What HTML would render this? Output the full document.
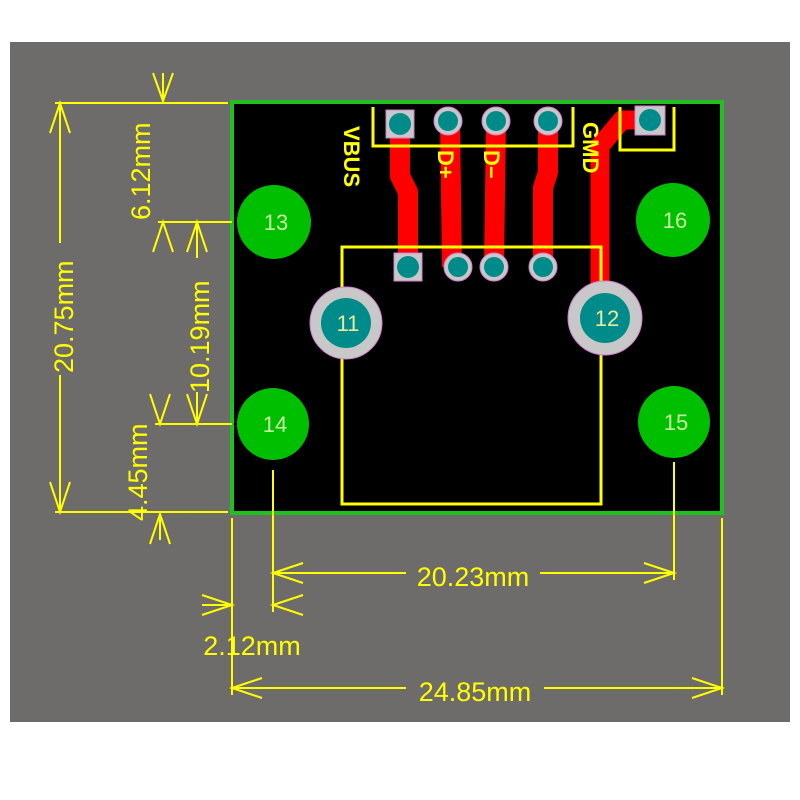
<!DOCTYPE html>
<html><head><meta charset="utf-8"><style>
html,body{margin:0;padding:0;background:#fff;width:800px;height:800px;overflow:hidden}
svg{display:block}
text{font-family:"Liberation Sans",sans-serif}
</style></head><body>
<svg width="800" height="800" viewBox="0 0 800 800">
<rect x="10" y="42" width="780" height="680" fill="#6e6b6b"/>
<rect x="232" y="102" width="490" height="411" fill="#000" stroke="#1fc01f" stroke-width="4"/>
<g stroke="#ff0000" stroke-width="20" fill="none" stroke-linejoin="round">
<polyline points="400,124 400,176 408,192 408,267"/>
<polyline points="450,121 452,267"/>
<line x1="496" y1="121" x2="494" y2="267"/>
<polyline points="548,121 548,172 543,188 543,267"/>
<polyline points="650,120 622,120 600,146 600,300" stroke-width="19"/>
</g>
<g stroke="#ffff00" stroke-width="3" fill="none">
<polyline points="373,107 373,146 573,146 573,107"/>
<polyline points="620,107 620,150 674,150 674,107"/>
<rect x="342" y="247" width="259" height="257"/>
</g>
<g fill="#c8c8c8" stroke="#d080d0" stroke-width="1">
<rect x="386" y="110" width="28" height="28"/>
<rect x="635" y="106" width="30" height="29"/>
<rect x="394" y="253" width="28" height="28"/>
<circle cx="448" cy="121" r="14"/><circle cx="496" cy="121" r="14"/><circle cx="548" cy="121" r="14"/>
<circle cx="458" cy="267" r="14"/><circle cx="494" cy="267" r="14"/><circle cx="543" cy="267" r="14"/>
<circle cx="346" cy="323" r="36"/><circle cx="605" cy="318" r="37"/>
</g>
<g fill="#008b8b">
<circle cx="400" cy="124" r="11"/><circle cx="650" cy="120" r="11"/><circle cx="408" cy="267" r="11"/>
<circle cx="448" cy="121" r="10"/><circle cx="496" cy="121" r="10"/><circle cx="548" cy="121" r="10"/>
<circle cx="458" cy="267" r="10"/><circle cx="494" cy="267" r="10"/><circle cx="543" cy="267" r="10"/>
<circle cx="346" cy="323" r="25"/><circle cx="605" cy="318" r="25"/>
</g>
<g fill="#00bf00">
<circle cx="274" cy="222" r="37"/><circle cx="673" cy="220" r="37"/>
<circle cx="273" cy="424" r="36"/><circle cx="674" cy="422" r="36"/>
</g>
<g fill="#c8f0a0" font-size="22" text-anchor="middle">
<text x="276" y="230">13</text><text x="675" y="228">16</text>
<text x="275" y="432">14</text><text x="676" y="430">15</text>
<text x="348" y="331" fill="#e8e8a0">11</text><text x="607" y="326" fill="#e8e8a0">12</text>
</g>
<g fill="#ffff00" font-size="22" font-weight="bold">
<text transform="translate(344,126) rotate(90)">VBUS</text>
<text transform="translate(438,150) rotate(90)">D+</text>
<text transform="translate(484,150) rotate(90)">D−</text>
<text transform="translate(583,122) rotate(90)">GMD</text>
</g>
<g stroke="#ffff00" stroke-width="2" fill="none">
<line x1="55" y1="103" x2="228" y2="103"/>
<line x1="55" y1="512" x2="228" y2="512"/>
<line x1="60" y1="103" x2="60" y2="512"/>
<polyline points="50,133 60,103 70,133"/><polyline points="50,482 60,512 70,482"/>
<line x1="163" y1="73" x2="163" y2="101"/><polyline points="153,73 163,101 173,73"/>
<line x1="158" y1="222" x2="232" y2="222"/>
<line x1="155" y1="424" x2="232" y2="424"/>
<line x1="197" y1="222" x2="197" y2="424"/>
<polyline points="187,252 197,222 207,252"/><polyline points="187,394 197,424 207,394"/>
<polyline points="153,252 163,222 173,252"/>
<polyline points="150,394 160,424 170,394"/>
<line x1="160" y1="514" x2="160" y2="540"/><polyline points="150,544 160,514 170,544"/>
<line x1="273" y1="470" x2="273" y2="612"/>
<line x1="674" y1="462" x2="674" y2="580"/>
<line x1="273" y1="573" x2="672" y2="573"/>
<polyline points="303,563 273,573 303,583"/><polyline points="644,563 674,573 644,583"/>
<line x1="232" y1="518" x2="232" y2="695"/>
<line x1="722" y1="518" x2="722" y2="695"/>
<line x1="202" y1="605" x2="232" y2="605"/><polyline points="202,595 232,605 202,615"/>
<polyline points="303,595 273,605 303,615"/>
<line x1="232" y1="688" x2="722" y2="688"/>
<polyline points="262,678 232,688 262,698"/><polyline points="692,678 722,688 692,698"/>
</g>
<g fill="#ffff00" font-size="27">
<rect x="48" y="243" width="26" height="132" fill="#6e6b6b"/>
<text transform="translate(73,373) rotate(-90)">20.75mm</text>
<text transform="translate(150,220) rotate(-90)">6.12mm</text>
<rect x="186" y="258" width="24" height="134" fill="#6e6b6b"/>
<text transform="translate(209,393) rotate(-90)">10.19mm</text>
<text transform="translate(147,521) rotate(-90)">4.45mm</text>
<rect x="406" y="560" width="134" height="26" fill="#6e6b6b"/>
<text x="473" y="586" text-anchor="middle">20.23mm</text>
<text x="252" y="655" text-anchor="middle">2.12mm</text>
<rect x="406" y="675" width="138" height="26" fill="#6e6b6b"/>
<text x="475" y="701" text-anchor="middle">24.85mm</text>
</g>
</svg>
</body></html>
